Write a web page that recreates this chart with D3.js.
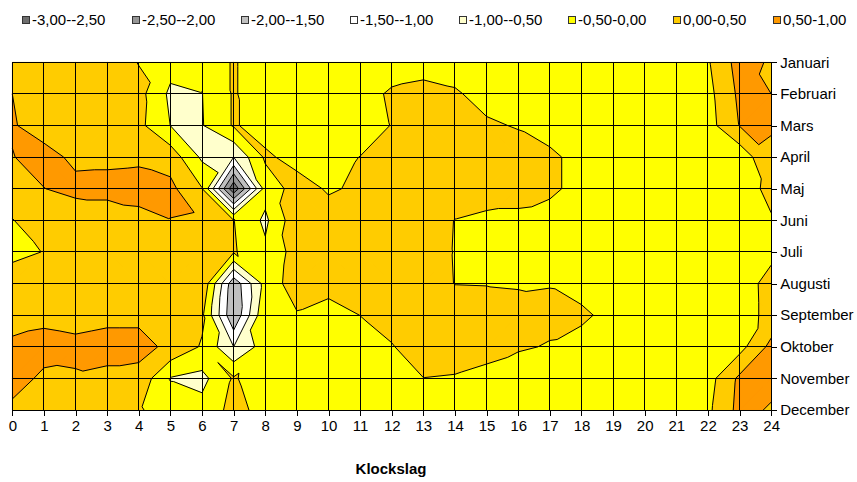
<!DOCTYPE html>
<html>
<head>
<meta charset="utf-8">
<script src="https://cdn.jsdelivr.net/npm/d3@7"></script>
<style>
  body { margin: 0; background: #ffffff; }
  text { font-family: "Liberation Sans", Arial, sans-serif; fill: #000; }
</style>
</head>
<body>
<svg id="chart" width="857" height="482"></svg>
<script>
// Month rows (top to bottom) and hour columns
const months = ["Januari", "Februari", "Mars", "April", "Maj", "Juni",
                "Juli", "Augusti", "September", "Oktober", "November", "December"];
const hours = [0, 1, 2, 3, 4, 5, 6, 7, 8, 9, 10, 11, 12, 13, 14, 15, 16, 17, 18, 19, 20, 21, 22, 23, 24];

// Contour band limits and their legend texts / colours
const thresholds = [-3, -2.5, -2, -1.5, -1, -0.5, 0, 0.5, 1];
const bandLabels = ["-3,00--2,50", "-2,50--2,00", "-2,00--1,50", "-1,50--1,00",
                    "-1,00--0,50", "-0,50-0,00", "0,00-0,50", "0,50-1,00"];
const bandColors = ["#6e6e6e", "#969696", "#c0c0c0", "#ffffff",
                    "#ffffcc", "#ffff00", "#ffcc00", "#ff9900"];

// Values per month, one per hour 0..24
const jan = [0.3, 0.32, 0.3, 0.3, -0.02, -0.3, -0.35, 0.045, -0.3, -0.3, -0.3, -0.3, -0.25, -0.15, -0.2, -0.3, -0.3, -0.3, -0.3, -0.3, -0.3, -0.3, -0.05, 0.7, 0.44];
const feb = [0.5, 0.3, 0.3, 0.25, 0.17, -0.6, -0.51, 0.045, -0.3, -0.3, -0.3, -0.2, 0.07, 0.12, 0.05, -0.15, -0.3, -0.3, -0.3, -0.3, -0.3, -0.3, -0.15, 0.6, 0.5];
const mar = [0.55, 0.25, 0.3, 0.3, 0.13, -0.505, -0.53, 0.045, -0.2, -0.3, -0.3, -0.3, 0.02, 0.2, 0.2, 0.06, -0.03, -0.25, -0.3, -0.3, -0.3, -0.3, -0.2, 0.52, 0.506];
const apr = [0.48, 0.7, 0.38, 0.4, 0.42, 0.3, -0.59, -1.0, 0.08, -0.16, -0.2, 0.01, 0.25, 0.25, 0.25, 0.25, 0.2, 0.12, -0.2, -0.3, -0.3, -0.3, -0.3, -0.35, 0.487];
const maj = [0.3, 0.49, 0.65, 0.65, 0.68, 0.62, 0.02, -2.9, -0.3, 0.2, -0.05, 0.07, 0.25, 0.3, 0.25, 0.2, 0.15, 0.12, -0.2, -0.3, -0.3, -0.3, -0.3, -0.3, 0.16];
const jun = [-0.02, 0.3, 0.15, 0.23, 0.36, 0.49, 0.46, 0.01, -0.6, 0.35, 0.2, 0.25, 0.3, 0.2, -0.01, -0.09, -0.09, -0.25, -0.3, -0.3, -0.3, -0.3, -0.3, -0.3, -0.05];
const jul = [-0.1, 0.01, 0.3, 0.3, 0.3, 0.35, 0.3, 0.05, -0.4, 0.21, 0.25, 0.3, 0.3, 0.25, -0.02, -0.2, -0.25, -0.3, -0.3, -0.3, -0.3, -0.3, -0.3, -0.2, -0.1];
const aug = [0.2, 0.3, 0.3, 0.3, 0.3, 0.35, 0.43, -1.85, -0.3, 0.25, 0.18, 0.2, 0.25, 0.2, -0.01, -0.02, -0.04, -0.02, -0.2, -0.3, -0.3, -0.3, -0.3, -0.2, 0.14];
const sep = [0.3, 0.4, 0.35, 0.4, 0.4, 0.3, 0.1, -1.95, -0.05, -0.04, -0.2, 0.005, 0.15, 0.25, 0.25, 0.25, 0.17, 0.12, 0.1, -0.17, -0.3, -0.3, -0.3, -0.2, 0.13];
const okt = [0.6, 0.64, 0.6, 0.65, 0.65, 0.4, -0.05, -1.0, -0.25, -0.25, -0.3, -0.25, -0.022, 0.2, 0.2, 0.12, 0.05, -0.03, -0.2, -0.3, -0.3, -0.3, -0.25, -0.18, 0.64];
const nov = [0.65, 0.43, 0.455, 0.4, 0.35, -0.52, -0.65, 0.05, -0.3, -0.3, -0.3, -0.3, -0.25, -0.005, -0.03, -0.1, -0.26, -0.3, -0.3, -0.3, -0.3, -0.3, -0.2, 0.6, 0.65];
const dec = [0.42, 0.3, 0.3, 0.25, 0.06, -0.3, -0.32, 0.15, -0.16, -0.3, -0.3, -0.3, -0.3, -0.3, -0.3, -0.3, -0.3, -0.3, -0.3, -0.3, -0.3, -0.3, -0.1, 0.65, 0.45];

const grid = [jan, feb, mar, apr, maj, jun, jul, aug, sep, okt, nov, dec];

const svg = d3.select("#chart");
const x = d3.scaleLinear().domain([0, 24]).range([12.3, 771.2]);
const y = d3.scaleLinear().domain([0, months.length - 1]).range([62.3, 410]);

// Keep the part of a polygon (vertices [col,row,value]) on one side of a level
function clipLevel(poly, level, keepAbove) {
  const out = [];
  for (let i = 0; i < poly.length; i++) {
    const a = poly[i], b = poly[(i + 1) % poly.length];
    const ina = keepAbove ? a[2] >= level : a[2] <= level;
    const inb = keepAbove ? b[2] >= level : b[2] <= level;
    if (ina) out.push(a);
    if (ina !== inb) {
      const f = (level - a[2]) / (b[2] - a[2]);
      out.push([a[0] + f * (b[0] - a[0]), a[1] + f * (b[1] - a[1]), level]);
    }
  }
  return out;
}

// Split every grid cell into two triangles along the diagonal whose ends
// are closest in value, then cut each triangle into the value bands.
const bands = bandColors.map((c, i) => ({ lo: thresholds[i], hi: thresholds[i + 1], color: c, d: "" }));
let lineD = "";
const pt = p => x(p[0]).toFixed(2) + "," + y(p[1]).toFixed(2);

for (let r = 0; r < grid.length - 1; r++) {
  for (let c = 0; c < hours.length - 1; c++) {
    const tl = [c, r, grid[r][c]], tr = [c + 1, r, grid[r][c + 1]];
    const bl = [c, r + 1, grid[r + 1][c]], br = [c + 1, r + 1, grid[r + 1][c + 1]];
    const tris = Math.abs(tl[2] - br[2]) <= Math.abs(tr[2] - bl[2])
      ? [[tl, tr, br], [tl, br, bl]]
      : [[tl, tr, bl], [tr, br, bl]];
    tris.forEach(tri => {
      bands.forEach(b => {
        const poly = clipLevel(clipLevel(tri, b.lo, true), b.hi, false);
        if (poly.length >= 3) b.d += "M" + poly.map(pt).join("L") + "Z";
      });
      thresholds.slice(1, -1).forEach(t => {
        const cross = [];
        for (let i = 0; i < 3; i++) {
          const a = tri[i], b = tri[(i + 1) % 3];
          if ((a[2] >= t) !== (b[2] >= t)) {
            const f = (t - a[2]) / (b[2] - a[2]);
            cross.push([a[0] + f * (b[0] - a[0]), a[1] + f * (b[1] - a[1])]);
          }
        }
        if (cross.length === 2) lineD += "M" + pt(cross[0]) + "L" + pt(cross[1]);
      });
    });
  }
}

// Filled bands
svg.append("g").selectAll("path").data(bands).join("path")
  .attr("d", d => d.d)
  .attr("fill", d => d.color)
  .attr("stroke", d => d.color)
  .attr("stroke-width", 0.6)
  .attr("stroke-linejoin", "round");

// Grid lines
const gridG = svg.append("g").attr("stroke", "#000").attr("stroke-width", 1).attr("shape-rendering", "crispEdges");
gridG.selectAll("line.v").data(hours).join("line").attr("class", "v")
  .attr("x1", d => x(d)).attr("x2", d => x(d)).attr("y1", y(0)).attr("y2", y(11));
gridG.selectAll("line.h").data(d3.range(months.length)).join("line").attr("class", "h")
  .attr("x1", x(0)).attr("x2", x(24)).attr("y1", d => y(d)).attr("y2", d => y(d));

// Contour lines
svg.append("path").attr("d", lineD).attr("fill", "none")
  .attr("stroke", "#000").attr("stroke-width", 1).attr("stroke-linejoin", "round");

// Axes
const xAxis = svg.append("g").attr("transform", `translate(0,${y(11)})`)
  .call(d3.axisBottom(x).tickValues(hours).tickFormat(d3.format("d")).tickSize(6).tickPadding(4));
const yAxis = svg.append("g").attr("transform", `translate(${x(24)},0)`)
  .call(d3.axisRight(y).tickValues(d3.range(months.length)).tickFormat(i => months[i]).tickSize(6).tickPadding(3));
[xAxis, yAxis].forEach(g => {
  g.selectAll("path.domain").attr("stroke", "#000").attr("shape-rendering", "crispEdges");
  g.selectAll(".tick line").attr("stroke", "#000").attr("shape-rendering", "crispEdges");
  g.selectAll("text").attr("font-size", 15).attr("font-family", '"Liberation Sans", Arial, sans-serif').attr("fill", "#000");
});

// Axis title
svg.append("text").attr("x", 391).attr("y", 474).attr("text-anchor", "middle")
  .attr("font-size", 15).attr("font-weight", "bold").text("Klockslag");

// Legend
const legendX = [22, 132, 241, 350, 459, 568, 673, 773];
const leg = svg.append("g").selectAll("g").data(bandLabels).join("g")
  .attr("transform", (d, i) => `translate(${legendX[i]},16)`);
leg.append("rect").attr("x", 0.5).attr("y", 0.5).attr("width", 7).attr("height", 7)
  .attr("fill", (d, i) => bandColors[i]).attr("stroke", "#333").attr("stroke-width", 1);
leg.append("text").attr("x", 10).attr("y", 8.5).attr("font-size", 15).text(d => d);
</script>
</body>
</html>
